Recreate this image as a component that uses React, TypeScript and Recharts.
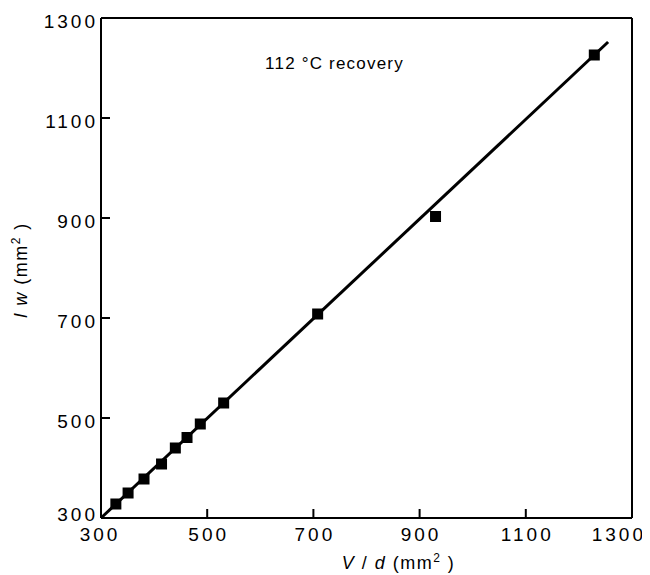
import React from 'react'
import {
  ScatterChart,
  Scatter,
  XAxis,
  YAxis,
  ReferenceLine,
  ReferenceDot,
  Label,
} from 'recharts'

// axis ticks
const xTicks = [300, 500, 700, 900, 1100, 1300]
const yTicks = [300, 500, 700, 900, 1100, 1300]

// measured points, V/d vs l w (mm^2)
const vdValues = [328, 351, 381, 414, 440, 462, 487, 531, 708, 930, 1229]
const lwValues = [328, 350, 378, 408, 440, 461, 488, 530, 708, 903, 1226]

// fitted line end points
const fitX = [300, 1255]
const fitY = [300, 1252]

const noteText = '112 °C recovery'
const notePos = { x: 609, y: 1198 }

const FONT = '"Liberation Sans", Arial, Helvetica, sans-serif'
const TICK_LEN = 9
const W = 642
const H = 567
// plot box inside the svg (the page adds the 8px body margin)
const PLOT = { left: 93, right: 624, top: 10, bottom: 510 }

const points = vdValues.map((v, i) => ({ vd: v, lw: lwValues[i] }))
const fitSegment = fitX.map((x, i) => ({ x, y: fitY[i] }))

const BottomTick = ({ x, payload, index, visibleTicksCount }) => {
  const last = index === visibleTicksCount - 1
  const first = index === 0
  return (
    <g>
      <line x1={x} x2={x} y1={PLOT.bottom} y2={PLOT.bottom - TICK_LEN} stroke="#000" strokeWidth={2} />
      <text
        x={last ? x + 14 : first ? x - 1 : x + 1.5}
        y={PLOT.bottom + 23}
        textAnchor={last ? 'end' : 'middle'}
        fontSize={19}
        letterSpacing={3}
        fontFamily={FONT}
        fill="#000"
      >
        {payload.value}
      </text>
    </g>
  )
}

const LeftTick = ({ y, payload, index }) => (
  <g>
    <line x1={PLOT.left} x2={PLOT.left + TICK_LEN} y1={y} y2={y} stroke="#000" strokeWidth={2} />
    <text
      x={PLOT.left - 3}
      y={index === 0 ? y + 3 : y + 10}
      textAnchor="end"
      fontSize={19}
      letterSpacing={3}
      fontFamily={FONT}
      fill="#000"
    >
      {payload.value}
    </text>
  </g>
)

const TopTick = ({ x }) => (
  <line x1={x} x2={x} y1={PLOT.top} y2={PLOT.top + TICK_LEN} stroke="#000" strokeWidth={2} />
)

const RightTick = ({ y }) => (
  <line x1={PLOT.right} x2={PLOT.right - TICK_LEN} y1={y} y2={y} stroke="#000" strokeWidth={2} />
)

const Square = ({ cx, cy }) => (
  <rect x={cx - 5.5} y={cy - 5.5} width={11} height={11} fill="#000" />
)

const XTitle = ({ viewBox }) => {
  const cx = viewBox.x + viewBox.width / 2 + 32
  const y = PLOT.bottom + 51
  return (
    <text x={cx} y={y} textAnchor="middle" fontSize={18} letterSpacing={1.5} fontFamily={FONT} fill="#000">
      <tspan fontStyle="italic">V</tspan>
      <tspan> / </tspan>
      <tspan fontStyle="italic">d</tspan>
      <tspan> (mm</tspan>
      <tspan fontSize={12} dy={-7}>2</tspan>
      <tspan dy={7}> )</tspan>
    </text>
  )
}

const YTitle = ({ viewBox }) => {
  const x = 19
  const cy = viewBox.y + viewBox.height / 2 + 2
  return (
    <text
      x={x}
      y={cy}
      transform={`rotate(-90, ${x}, ${cy})`}
      textAnchor="middle"
      fontSize={18}
      letterSpacing={1.5}
      fontFamily={FONT}
      fill="#000"
    >
      <tspan fontStyle="italic">l</tspan>
      <tspan> </tspan>
      <tspan fontStyle="italic">w</tspan>
      <tspan> (mm</tspan>
      <tspan fontSize={12} dy={-7}>2</tspan>
      <tspan dy={7}> )</tspan>
    </text>
  )
}

const Note = ({ cx, cy }) => (
  <text x={cx} y={cy} fontSize={17} letterSpacing={1.2} fontFamily={FONT} fill="#000">
    {noteText}
  </text>
)

export default function App() {
  return (
    <ScatterChart
      width={W}
      height={H}
      margin={{ top: PLOT.top - 1, right: W - PLOT.right - 1, bottom: H - PLOT.bottom - 30, left: PLOT.left - 60 }}
      style={{ fontFamily: FONT }}
    >
      <XAxis
        xAxisId="main"
        dataKey="vd"
        type="number"
        domain={[300, 1300]}
        ticks={xTicks}
        interval={0}
        height={30}
        axisLine={{ stroke: '#000', strokeWidth: 2 }}
        tickLine={false}
        tick={BottomTick}
        allowDataOverflow
      >
        <Label content={XTitle} />
      </XAxis>
      <XAxis
        xAxisId="top"
        orientation="top"
        type="number"
        domain={[300, 1300]}
        ticks={xTicks}
        interval={0}
        height={1}
        axisLine={{ stroke: '#000', strokeWidth: 2 }}
        tickLine={false}
        tick={TopTick}
      />
      <YAxis
        yAxisId="main"
        dataKey="lw"
        type="number"
        domain={[300, 1300]}
        ticks={yTicks}
        interval={0}
        width={60}
        axisLine={{ stroke: '#000', strokeWidth: 2 }}
        tickLine={false}
        tick={LeftTick}
        allowDataOverflow
      >
        <Label content={YTitle} />
      </YAxis>
      <YAxis
        yAxisId="right"
        orientation="right"
        type="number"
        domain={[300, 1300]}
        ticks={yTicks}
        interval={0}
        width={1}
        axisLine={{ stroke: '#000', strokeWidth: 2 }}
        tickLine={false}
        tick={RightTick}
      />
      <ReferenceLine
        xAxisId="main"
        yAxisId="main"
        segment={fitSegment}
        stroke="#000"
        strokeWidth={3}
      />
      <Scatter
        xAxisId="main"
        yAxisId="main"
        data={points}
        shape={Square}
        isAnimationActive={false}
      />
      <ReferenceDot
        xAxisId="main"
        yAxisId="main"
        x={notePos.x}
        y={notePos.y}
        r={0}
        shape={Note}
      />
    </ScatterChart>
  )
}
